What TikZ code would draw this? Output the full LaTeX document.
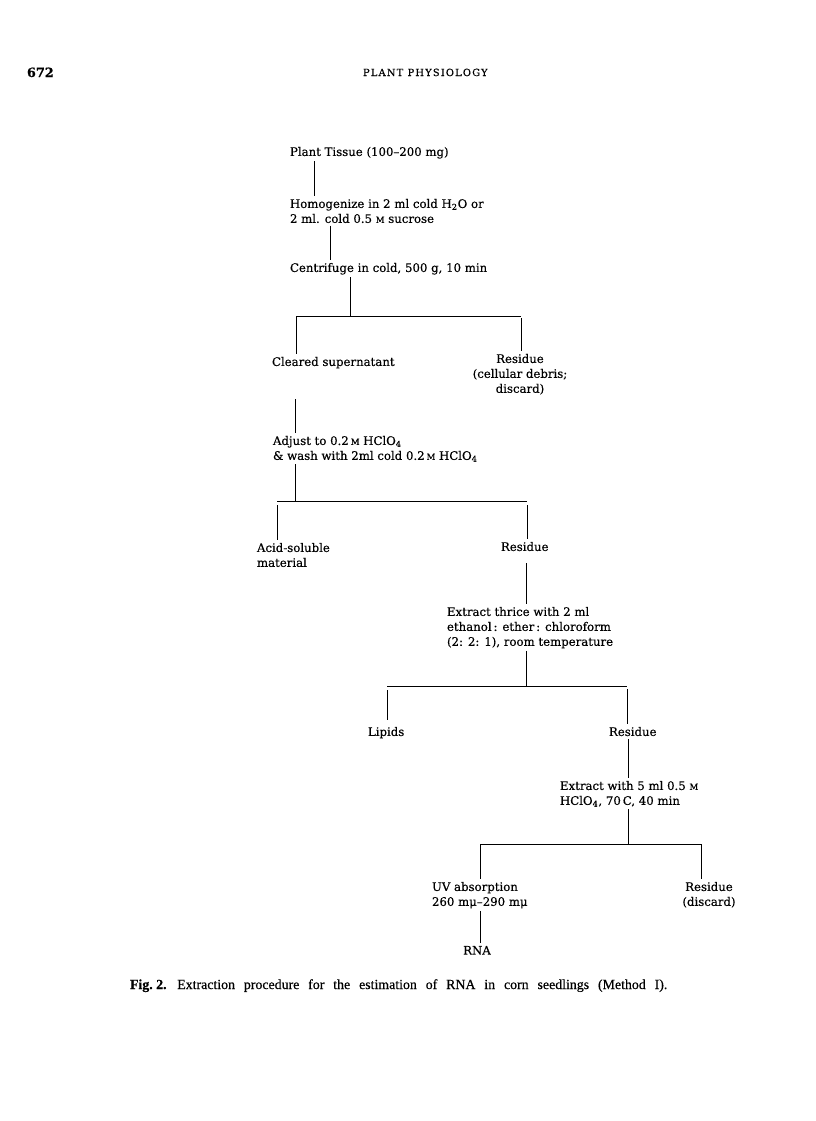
\documentclass[tikz,border=0pt]{standalone}
\usepackage{fontspec}
\setmainfont{DejaVu Serif}[FakeBold=0.35]
\newfontfamily\capfont{Liberation Serif}[FakeBold=0.5]
\newcommand{\Mo}{{\fontsize{6.4}{6}\selectfont M}}
\begin{document}
\begin{tikzpicture}[x=0.75pt,y=-0.75pt,
  every node/.style={inner sep=0pt,outer sep=0pt},
  lbl/.style={anchor=north west,align=left,font=\fontsize{8.8}{11.2}\selectfont},
  clbl/.style={anchor=north,align=center,font=\fontsize{8.8}{11.2}\selectfont},
  ln/.style={line width=0.7pt,shorten <=2pt,shorten >=2pt},
  dn/.style={line width=0.7pt,shorten >=2pt},
  bar/.style={line width=0.7pt}]
\useasboundingbox (0,0) rectangle (816,1121);
\fill[white] (0,0) rectangle (816,1121);
% header
\node[anchor=base west,font=\fontsize{9.6}{10}\selectfont\bfseries] (pg) at (27,77) {672};
\node[anchor=base west,font=\fontsize{7.4}{8}\selectfont\addfontfeature{LetterSpace=12}] (journal) at (363,76) {PLANT\ PHYSIOLOGY};
% nodes
\node[lbl] (plant) at (290,147) {Plant Tissue (100–200 mg)};
\node[lbl] (homog) at (290,199) {Homogenize in 2 ml cold H\textsubscript{2}O or\\2 ml. cold 0.5 \Mo\ sucrose};
\node[lbl] (centr) at (290,263) {Centrifuge in cold, 500 g, 10 min};
\node[lbl] (clear) at (272,357) {Cleared supernatant};
\node[clbl] (res1) at (520,354) {Residue\\(cellular debris;\\discard)};
\node[lbl] (adjust) at (273,436) {Adjust to 0.2\,\Mo\ HClO\textsubscript{4}\\\& wash with 2ml cold 0.2\,\Mo\ HClO\textsubscript{4}};
\node[lbl] (acid) at (257,543) {Acid-soluble\\material};
\node[lbl] (res2) at (501,542) {Residue};
\node[lbl] (extr1) at (447,607) {Extract thrice with 2 ml\\ethanol\,: ether\,: chloroform\\(2: 2: 1), room temperature};
\node[lbl] (lipids) at (368,727) {Lipids};
\node[lbl] (res3) at (609,727) {Residue};
\node[lbl] (extr2) at (560,781) {Extract with 5 ml 0.5 \Mo\\HClO\textsubscript{4}, 70\,C, 40 min};
\node[lbl] (uv) at (432,882) {UV absorption\\260 mμ–290 mμ};
\node[clbl] (res4) at (709,882) {Residue\\(discard)};
\node[clbl] (rna) at (477,946) {RNA};
\node[anchor=base west,font=\capfont\fontsize{10.4}{11}\selectfont] (caption) at (130,989)
  {\makebox[403pt][s]{\hbox{\textbf{Fig.\ 2.}}\hspace*{8pt}Extraction procedure for the estimation of RNA in corn seedlings (Method I).}};
% coordinates
\coordinate (v1) at (314,0);
\coordinate (v2) at (330,0);
\coordinate (v3) at (295,0);
\coordinate (b1c) at (350,316); \coordinate (b1l) at (296,316); \coordinate (b1r) at (521,316);
\coordinate (b2c) at (295,501); \coordinate (b2l) at (277,501); \coordinate (b2r) at (527,501);
\coordinate (b3c) at (526,686); \coordinate (b3l) at (387,686); \coordinate (b3r) at (627,686);
\coordinate (b4c) at (628,844); \coordinate (b4l) at (480,844); \coordinate (b4r) at (701,844);
% connectors
\draw[ln] (plant.south -| v1) -- (homog.north -| v1);
\draw[ln] (homog.south -| v2) -- (centr.north -| v2);
\draw[ln,shorten >=0pt] (centr.south -| b1c) -- (b1c);
\draw[bar] (b1l) -- (b1r);
\draw[dn] (b1l) -- (clear.north -| b1l);
\draw[dn,shorten <=1.5pt] (b1r) -- (res1.north -| b1r);
\draw[ln,shorten <=23pt] (clear.south -| v3) -- (adjust.north -| v3);
\draw[ln,shorten >=0pt] (adjust.south -| b2c) -- (b2c);
\draw[bar] (b2l) -- (b2r);
\draw[dn,shorten <=3pt] (b2l) -- (acid.north -| b2l);
\draw[dn,shorten <=3pt] (b2r) -- (res2.north -| b2r);
\draw[ln,shorten <=9pt] (res2.south -| b3c) -- (extr1.north -| b3c);
\draw[ln,shorten >=0pt] (extr1.south -| b3c) -- (b3c);
\draw[bar] (b3l) -- (b3r);
\draw[dn,shorten <=3pt,shorten >=5pt] (b3l) -- (lipids.north -| b3l);
\draw[dn,shorten <=2.5pt] (b3r) -- (res3.north -| b3r);
\draw[ln] (res3.south -| b4c) -- (extr2.north -| b4c);
\draw[ln,shorten >=0pt] (extr2.south -| b4c) -- (b4c);
\draw[bar] (b4l) -- (b4r);
\draw[dn] (b4l) -- (uv.north -| b4l);
\draw[dn] (b4r) -- (res4.north -| b4r);
\draw[ln] (uv.south -| b4l) -- (rna.north -| b4l);
\end{tikzpicture}
\end{document}
